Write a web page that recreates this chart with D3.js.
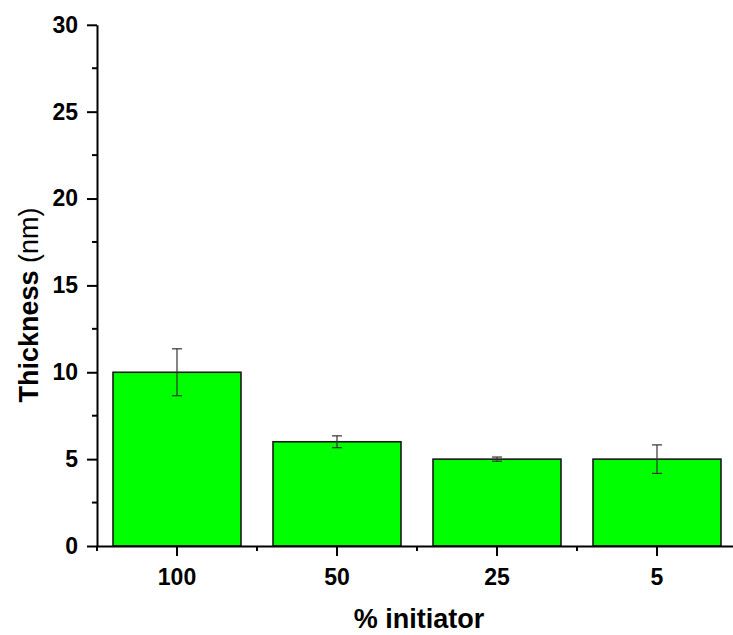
<!DOCTYPE html>
<html>
<head>
<meta charset="utf-8">
<script src="https://cdn.jsdelivr.net/npm/d3@7"></script>
<style>
  body { margin: 0; background: #fff; }
  svg { display: block; }
  text { font-family: "Liberation Sans", Arial, sans-serif; }
</style>
</head>
<body>
<div id="chart"></div>
<script>
// % initiator categories and measured thickness
const categories = ['100', '50', '25', '5'];
const thickness = [10, 6, 5, 5];
const errors = [1.35, 0.34, 0.12, 0.82];
const yTicks = [0, 5, 10, 15, 20, 25, 30];

const width = 733, height = 635;
const plotLeft = 97, plotRight = 737, plotTop = 24.8, plotBottom = 546;

const svg = d3.select('#chart').append('svg')
  .attr('width', width)
  .attr('height', height);

const x = d3.scaleBand()
  .domain(categories)
  .range([plotLeft, plotRight])
  .paddingInner(0.2)
  .paddingOuter(0.1);

const y = d3.scaleLinear()
  .domain([0, 30])
  .range([plotBottom, plotTop]);

// bars
svg.selectAll('rect.bar')
  .data(categories)
  .enter()
  .append('rect')
  .attr('class', 'bar')
  .attr('x', d => x(d))
  .attr('y', (d, i) => y(thickness[i]))
  .attr('width', x.bandwidth())
  .attr('height', (d, i) => y(0) - y(thickness[i]))
  .attr('fill', '#00ff00')
  .attr('stroke', '#1a1a1a')
  .attr('stroke-width', 1.6);

// error bars
const cap = 5;
const eb = svg.selectAll('g.err')
  .data(categories)
  .enter()
  .append('g')
  .attr('class', 'err')
  .attr('stroke', '#333')
  .attr('stroke-width', 1.2);
eb.append('line')
  .attr('x1', d => x(d) + x.bandwidth() / 2)
  .attr('x2', d => x(d) + x.bandwidth() / 2)
  .attr('y1', (d, i) => y(thickness[i] + errors[i]))
  .attr('y2', (d, i) => y(thickness[i] - errors[i]));
[1, -1].forEach(s => {
  eb.append('line')
    .attr('x1', d => x(d) + x.bandwidth() / 2 - cap)
    .attr('x2', d => x(d) + x.bandwidth() / 2 + cap)
    .attr('y1', (d, i) => y(thickness[i] + s * errors[i]))
    .attr('y2', (d, i) => y(thickness[i] + s * errors[i]));
});

// y axis
const yAxis = svg.append('g')
  .attr('transform', `translate(${plotLeft},0)`)
  .call(d3.axisLeft(y).tickValues(yTicks).tickSize(10).tickSizeOuter(0).tickPadding(9));
// minor y ticks
svg.append('g')
  .attr('transform', `translate(${plotLeft},0)`)
  .selectAll('line')
  .data(yTicks.slice(0, -1).map(v => v + 2.5))
  .enter()
  .append('line')
  .attr('x1', -5).attr('x2', 0)
  .attr('y1', d => y(d)).attr('y2', d => y(d))
  .attr('stroke', '#000').attr('stroke-width', 2);

// x axis
const xAxis = svg.append('g')
  .attr('transform', `translate(0,${plotBottom})`)
  .call(d3.axisBottom(x).tickSize(10).tickSizeOuter(0).tickPadding(13));
// minor x ticks at category boundaries
const step = x.step();
svg.append('g')
  .attr('transform', `translate(0,${plotBottom})`)
  .selectAll('line')
  .data(d3.range(categories.length + 1))
  .enter()
  .append('line')
  .attr('x1', i => plotLeft + i * step).attr('x2', i => plotLeft + i * step)
  .attr('y1', 0).attr('y2', 5)
  .attr('stroke', '#000').attr('stroke-width', 2);

[yAxis, xAxis].forEach(g => {
  g.select('.domain').attr('stroke', '#000').attr('stroke-width', 2);
  g.selectAll('.tick line').attr('stroke', '#000').attr('stroke-width', 2);
  g.selectAll('.tick text')
    .attr('fill', '#000')
    .style('font-size', '23px')
    .style('font-weight', 'bold');
});

// axis titles
svg.append('text')
  .attr('transform', 'translate(38,305) rotate(-90)')
  .attr('text-anchor', 'middle')
  .style('font-size', '27px')
  .html('<tspan font-weight="bold">Thickness</tspan> (nm)');

svg.append('text')
  .attr('x', 419)
  .attr('y', 628)
  .attr('text-anchor', 'middle')
  .style('font-size', '27px')
  .style('font-weight', 'bold')
  .text('% initiator');
</script>
</body>
</html>
